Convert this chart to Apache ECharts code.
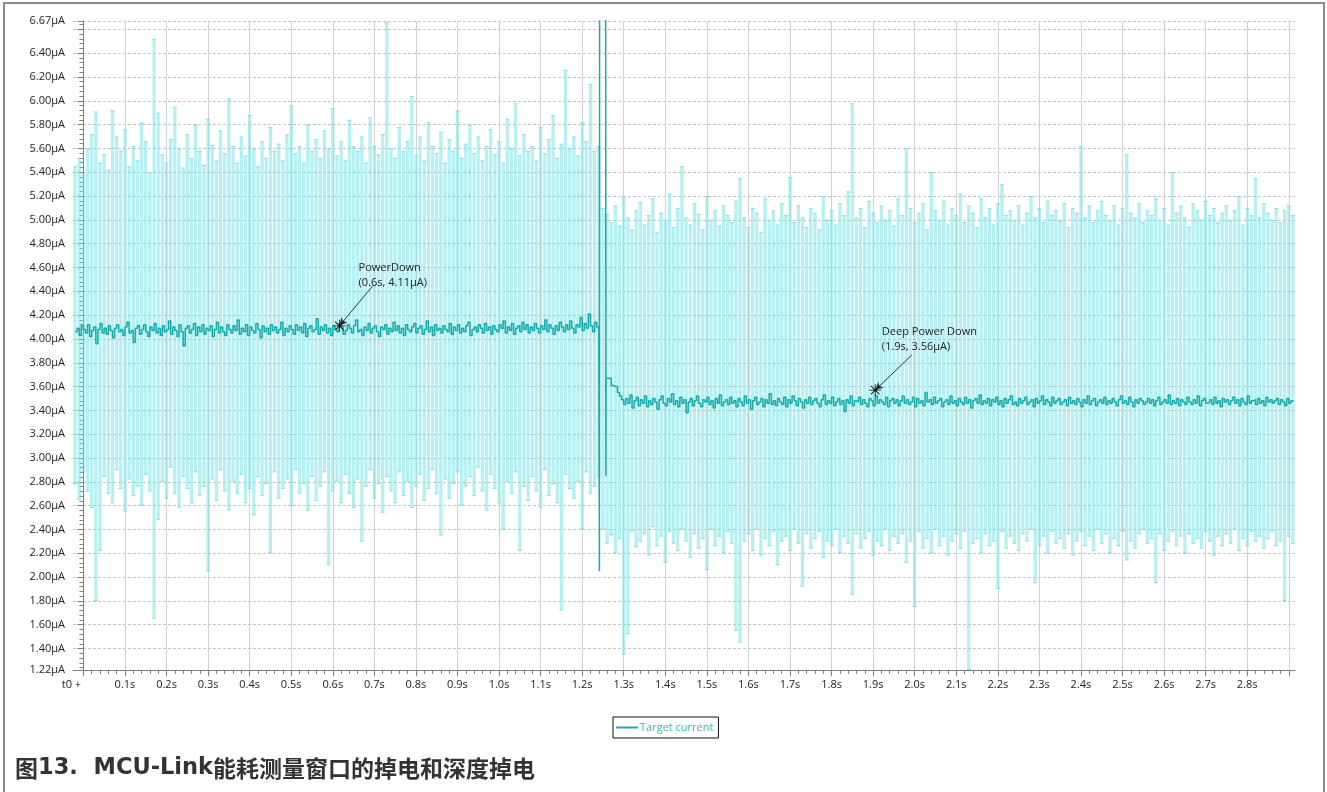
<!DOCTYPE html>
<html>
<head>
<meta charset="utf-8">
<script src="https://cdn.jsdelivr.net/npm/echarts@6/dist/echarts.min.js"></script>
<style>
html,body{margin:0;padding:0;background:#fff;}
#chart{width:1327px;height:792px;}
</style>
</head>
<body>
<div id="chart"></div>
<script>
// ---------- data ----------
const bandDt = 0.01;
// band (min/max per 0.01 s), segment A: PowerDown, starts at t = -0.02 s
const bandAStart = -0.02;
const maxA = [
5.45,5.52,5.38,5.60,5.72,5.91,5.48,5.55,5.42,5.92,
5.70,5.58,5.76,5.45,5.62,5.50,5.82,5.66,5.40,6.52,
5.90,5.55,5.48,5.68,5.95,5.60,5.44,5.72,5.52,5.80,
5.58,5.46,5.85,5.63,5.50,5.75,5.56,6.02,5.62,5.48,
5.70,5.54,5.88,5.60,5.45,5.66,5.52,5.78,5.58,5.64,
5.50,5.72,5.96,5.56,5.62,5.48,5.80,5.58,5.68,5.52,
5.75,5.60,5.94,5.54,5.66,5.50,5.84,5.62,5.58,5.70,
5.48,5.86,5.62,5.55,5.72,6.66,5.60,5.52,5.78,5.58,
5.66,6.04,5.54,5.70,5.50,5.82,5.62,5.56,5.74,5.48,
5.68,5.58,5.92,5.52,5.64,5.80,5.56,5.70,5.50,5.62,
5.76,5.55,5.66,5.48,5.85,5.60,5.98,5.54,5.72,5.58,
5.62,5.50,5.78,5.56,5.68,5.88,5.52,5.64,6.26,5.60,
5.70,5.54,5.82,5.66,6.14,5.58,5.62];
const minA = [
2.78,2.65,2.88,2.72,2.58,1.80,2.22,2.84,2.70,2.62,
2.90,2.74,2.55,2.82,2.68,2.76,2.60,2.86,2.72,1.65,
2.48,2.80,2.66,2.92,2.70,2.58,2.84,2.74,2.62,2.88,
2.68,2.76,2.05,2.82,2.64,2.90,2.72,2.56,2.80,2.70,
2.86,2.62,2.74,2.52,2.84,2.68,2.78,2.20,2.88,2.66,
2.74,2.82,2.60,2.90,2.70,2.78,2.56,2.84,2.64,2.76,
2.88,2.10,2.72,2.80,2.62,2.86,2.70,2.58,2.82,2.30,
2.76,2.90,2.66,2.78,2.54,2.84,2.72,2.62,2.88,2.68,
2.80,2.58,2.76,2.86,2.64,2.74,2.90,2.70,2.35,2.82,
2.66,2.78,2.88,2.60,2.76,2.84,2.68,2.92,2.72,2.56,
2.86,2.74,2.62,2.40,2.80,2.70,2.88,2.22,2.76,2.64,
2.84,2.72,2.58,2.90,2.68,2.78,2.62,1.72,2.86,2.74,
2.66,2.80,2.40,2.88,2.70,2.76,2.84];
// segment B: Deep Power Down, starts at t = 1.25 s
const bandBStart = 1.25;
const maxB = [
5.10,5.05,4.98,5.12,4.95,5.20,5.02,4.92,5.08,5.15,
4.96,5.04,5.18,4.90,5.06,5.00,5.22,4.94,5.10,5.45,
5.02,4.96,5.14,5.05,4.92,5.20,5.00,5.08,4.95,5.12,
5.04,4.98,5.16,5.35,5.02,4.94,5.10,5.06,4.90,5.18,
5.00,5.08,4.96,5.14,5.04,5.36,4.98,5.12,5.02,4.94,
5.10,5.06,4.92,5.20,5.00,5.08,4.96,5.14,5.04,5.24,
5.98,5.02,5.10,4.94,5.16,5.06,4.98,5.12,5.00,5.08,
4.95,5.18,5.04,5.60,5.10,4.98,5.06,5.14,4.92,5.40,
5.08,5.00,5.16,4.96,5.10,5.04,5.22,4.98,5.12,5.06,
4.94,5.18,5.02,5.10,4.96,5.14,5.30,5.04,5.08,5.00,
5.12,4.96,5.06,5.20,5.02,5.10,4.98,5.16,5.04,5.08,
5.00,5.14,4.94,5.10,5.06,5.62,5.02,5.12,4.98,5.08,
5.16,5.04,5.00,5.12,4.96,5.10,5.55,5.06,5.02,5.14,
4.98,5.08,5.04,5.18,5.00,5.10,4.96,5.40,5.06,5.12,
5.02,4.94,5.14,5.08,5.00,5.16,5.04,5.10,4.98,5.06,
5.12,5.00,5.08,5.20,4.96,5.10,5.04,5.35,5.02,5.14,
5.06,5.00,5.10,4.98,5.08,5.12,5.04];
const minB = [
2.40,2.28,2.35,2.20,2.32,1.35,1.52,2.38,2.25,2.30,
2.36,2.18,2.42,2.26,2.34,2.12,2.38,2.28,2.22,2.40,
2.30,2.16,2.36,2.24,2.32,2.06,2.40,2.26,2.34,2.20,
2.38,2.28,1.55,1.45,2.30,2.36,2.22,2.40,2.18,2.32,
2.26,2.38,2.10,2.30,2.34,2.22,2.40,2.28,1.92,2.36,
2.24,2.32,2.38,2.16,2.30,2.26,2.40,2.20,2.34,2.28,
1.85,2.36,2.24,2.32,2.38,2.18,2.30,2.26,2.40,2.22,
2.34,2.28,2.36,2.12,2.30,1.75,2.38,2.24,2.32,2.20,
2.40,2.26,2.34,2.18,2.30,2.36,2.24,2.38,1.22,2.28,
2.32,2.20,2.36,2.26,2.30,1.90,2.38,2.24,2.34,2.28,
2.22,2.36,2.30,2.40,1.95,2.26,2.34,2.20,2.38,2.28,
2.32,2.24,2.36,2.18,2.30,2.38,2.26,2.34,2.22,2.40,
2.28,2.36,2.20,2.32,2.26,2.38,2.14,2.30,2.24,2.36,
2.40,2.28,2.32,1.95,2.36,2.22,2.30,2.38,2.26,2.34,
2.20,2.36,2.28,2.32,2.24,2.38,2.30,2.18,2.34,2.26,
2.36,2.28,2.40,2.22,2.32,2.26,2.38,2.30,2.34,2.24,
2.32,2.38,2.26,2.30,1.80,2.34,2.28];
// average current ("Target current"), one value per 0.005 s
const avgDt = 0.005;
const avgAStart = -0.02;
const avgA = [
4.06,4.09,4.03,4.11,4.08,4.05,4.12,4.02,4.07,4.10,3.96,4.08,4.13,4.05,4.09,4.04,4.11,4.07,4.01,4.09,
4.12,4.06,4.08,4.03,4.10,4.14,4.05,4.07,3.97,4.09,4.11,4.04,4.08,4.12,4.06,4.02,4.10,4.07,4.13,4.05,
4.09,4.03,4.11,4.06,4.08,4.15,4.04,4.10,4.07,4.02,4.12,4.06,3.94,4.09,4.11,4.05,4.08,4.13,4.03,4.10,
4.06,4.12,4.04,4.09,4.07,4.11,4.02,4.08,4.14,4.05,4.10,4.06,4.03,4.12,4.08,4.05,4.11,4.07,4.16,4.04,
4.09,4.06,4.12,4.03,4.10,4.07,4.05,4.13,4.08,4.01,4.11,4.06,4.09,4.04,4.12,4.07,4.10,4.05,4.08,4.14,
4.03,4.09,4.06,4.11,4.08,4.04,4.12,4.07,4.10,4.05,4.13,4.02,4.09,4.11,4.06,4.08,4.17,4.04,4.10,4.07,
4.12,4.05,4.09,4.03,4.11,4.08,4.06,4.13,4.10,4.04,4.07,4.12,4.09,4.05,4.11,4.16,4.06,4.08,4.03,4.10,
4.07,4.13,4.05,4.09,4.11,4.06,4.02,4.10,4.08,4.12,4.04,4.09,4.06,4.14,4.07,4.11,4.05,4.09,4.03,4.12,
4.08,4.06,4.10,4.13,4.05,4.09,4.11,4.04,4.08,4.15,4.06,4.10,4.03,4.12,4.07,4.09,4.05,4.11,4.08,4.06,
4.13,4.04,4.10,4.07,4.12,4.05,4.09,4.06,4.11,4.14,4.03,4.08,4.10,4.06,4.12,4.09,4.05,4.13,4.07,4.10,
4.04,4.11,4.08,4.06,4.12,4.09,4.15,4.05,4.10,4.07,4.13,4.04,4.09,4.11,4.06,4.14,4.08,4.12,4.05,4.10,
4.07,4.13,4.09,4.05,4.11,4.08,4.16,4.06,4.12,4.09,4.04,4.11,4.07,4.14,4.10,4.06,4.12,4.08,4.15,4.09,
4.05,4.12,4.10,4.18,4.07,4.13,4.09,4.21,4.11,4.06,4.14,4.10,4.08];
// switching transient between the two modes
const spikeT = [1.2415, 1.2420, 1.2565, 1.2570, 1.2575];
const spikeV = [2.05, 8.00, 8.00, 2.85, 3.67];
const avgBStart = 1.26;
const avgB = [
3.67,3.67,3.61,3.60,3.60,3.55,3.52,3.49,3.45,3.50,3.46,3.53,3.42,3.48,3.51,3.44,3.49,3.46,3.52,3.43,
3.48,3.45,3.50,3.47,3.41,3.49,3.52,3.46,3.44,3.50,3.47,3.54,3.45,3.48,3.43,3.51,3.46,3.49,3.38,3.47,
3.50,3.44,3.48,3.52,3.46,3.43,3.49,3.47,3.51,3.45,3.48,3.42,3.50,3.46,3.53,3.44,3.47,3.49,3.45,3.51,
3.46,3.48,3.43,3.50,3.47,3.44,3.52,3.46,3.49,3.41,3.48,3.51,3.45,3.47,3.50,3.43,3.49,3.46,3.54,3.45,
3.48,3.44,3.50,3.47,3.45,3.51,3.43,3.49,3.46,3.52,3.48,3.44,3.50,3.47,3.42,3.49,3.46,3.51,3.45,3.48,
3.50,3.46,3.43,3.49,3.53,3.45,3.48,3.46,3.51,3.44,3.47,3.50,3.45,3.48,3.39,3.49,3.46,3.52,3.44,3.48,
3.47,3.51,3.45,3.49,3.46,3.43,3.50,3.48,3.44,3.52,3.46,3.49,3.47,3.45,3.51,3.43,3.48,3.50,3.46,3.49,
3.44,3.48,3.52,3.46,3.49,3.45,3.47,3.51,3.43,3.50,3.46,3.48,3.44,3.55,3.47,3.49,3.45,3.51,3.46,3.48,
3.50,3.43,3.47,3.49,3.45,3.52,3.46,3.48,3.44,3.50,3.47,3.45,3.51,3.46,3.49,3.42,3.48,3.50,3.46,3.53,
3.45,3.48,3.46,3.50,3.44,3.49,3.47,3.51,3.45,3.48,3.43,3.50,3.46,3.49,3.52,3.45,3.47,3.44,3.50,3.46,
3.48,3.51,3.45,3.47,3.49,3.43,3.50,3.46,3.48,3.52,3.45,3.49,3.47,3.44,3.51,3.46,3.48,3.50,3.45,3.47,
3.49,3.44,3.51,3.46,3.48,3.45,3.50,3.47,3.43,3.49,3.46,3.52,3.45,3.48,3.50,3.44,3.47,3.49,3.46,3.51,
3.45,3.48,3.46,3.50,3.47,3.44,3.49,3.52,3.46,3.48,3.45,3.51,3.47,3.43,3.49,3.46,3.50,3.48,3.45,3.47,
3.50,3.46,3.49,3.44,3.48,3.51,3.45,3.47,3.49,3.46,3.53,3.45,3.48,3.46,3.50,3.44,3.49,3.47,3.45,3.51,
3.47,3.45,3.49,3.46,3.52,3.44,3.48,3.50,3.46,3.47,3.49,3.45,3.51,3.46,3.48,3.43,3.50,3.47,3.49,3.45,
3.48,3.51,3.46,3.49,3.44,3.50,3.47,3.45,3.52,3.46,3.48,3.49,3.45,3.50,3.46,3.48,3.44,3.51,3.47,3.49,
3.46,3.48,3.50,3.45,3.49,3.47,3.44,3.50,3.46,3.48,3.47];
// annotations
const notes = [
  {text: 'PowerDown\n(0.6s, 4.11µA)', at: [0.616, 4.11], from: [0.696, 4.445], label: [0.662, 4.663]},
  {text: 'Deep Power Down\n(1.9s, 3.56µA)', at: [1.905, 3.57], from: [1.993, 3.865], label: [1.921, 4.125]}
];
// axes
const xMin = -0.025, xMax = 2.915;
const yMin = 1.22, yMax = 6.67;
const xLabelValues = [0,0.1,0.2,0.3,0.4,0.5,0.6,0.7,0.8,0.9,1.0,1.1,1.2,1.3,1.4,1.5,1.6,1.7,1.8,1.9,2.0,2.1,2.2,2.3,2.4,2.5,2.6,2.7,2.8];
const xGridValues = xLabelValues.concat([2.9]);
const yLabelValues = [1.22,1.4,1.6,1.8,2.0,2.2,2.4,2.6,2.8,3.0,3.2,3.4,3.6,3.8,4.0,4.2,4.4,4.6,4.8,5.0,5.2,5.4,5.6,5.8,6.0,6.2,6.4,6.67];
const yGridValues = [1.4,1.6,1.8,2.0,2.2,2.4,2.6,2.8,3.0,3.2,3.4,3.6,3.8,4.0,4.2,4.4,4.6,4.8,5.0,5.2,5.4,5.6,5.8,6.0,6.2,6.4,6.6,6.67];

// ---------- build ----------
const r4 = v => Math.round(v * 10000) / 10000;
const band = [];
maxA.forEach((hi, i) => band.push([r4(bandAStart + i * bandDt), minA[i], hi]));
maxB.forEach((hi, i) => band.push([r4(bandBStart + i * bandDt), minB[i], hi]));
const avg = [];
avgA.forEach((v, i) => avg.push([r4(avgAStart + i * avgDt), v]));
spikeT.forEach((t, i) => avg.push([t, spikeV[i]]));
avgB.forEach((v, i) => avg.push([r4(avgBStart + i * avgDt), v]));

const xMinor = [];
for (let k = 0; k * 0.02 <= xMax + 1e-9; k++) xMinor.push(r4(k * 0.02));
const yMinor = [];
for (let k = 0; 1.24 + k * 0.04 <= yMax + 1e-9; k++) yMinor.push(r4(1.24 + k * 0.04));

const BAND_FILL = 'rgba(122,228,231,0.55)';
const BAND_CAP = 'rgba(110,215,220,0.6)';
const LINE_COLOR = '#17abab';
const FONT = '"Open Sans", "Noto Sans", sans-serif';

function renderBand(params, api) {
  const t = api.value(0), lo = api.value(1), hi = api.value(2);
  const top = api.coord([t, hi]);
  const bot = api.coord([t, lo]);
  const w = api.size([bandDt, 0])[0];
  const bw = w * 0.8;
  const cw = w * 0.5;
  return {
    type: 'group',
    children: [
      {type: 'rect', shape: {x: top[0] - bw / 2, y: top[1], width: bw, height: bot[1] - top[1]}, style: {fill: BAND_FILL}},
      {type: 'line', shape: {x1: top[0] - cw, y1: top[1] + 0.5, x2: top[0] + cw, y2: top[1] + 0.5}, style: {stroke: BAND_CAP, lineWidth: 1}},
      {type: 'line', shape: {x1: top[0] - cw, y1: bot[1] - 0.5, x2: top[0] + cw, y2: bot[1] - 0.5}, style: {stroke: BAND_CAP, lineWidth: 1}}
    ]
  };
}

const chart = echarts.init(document.getElementById('chart'), null, {renderer: 'canvas'});
const labelStyle = {color: '#222', fontSize: 11, fontFamily: FONT};
chart.setOption({
  animation: false,
  backgroundColor: '#fff',
  grid: {left: 73, top: 21, width: 1222, height: 649, containLabel: false},
  xAxis: [
    {type: 'value', min: xMin, max: xMax, position: 'bottom',
     axisLine: {show: true, lineStyle: {color: '#808080', width: 1}},
     axisTick: {show: true, customValues: xMinor, length: 4, lineStyle: {color: '#808080'}},
     axisLabel: {show: false}, splitLine: {show: false}},
    {type: 'value', min: xMin, max: xMax, position: 'bottom',
     axisLine: {show: false},
     axisTick: {show: true, customValues: xGridValues, length: 6, lineStyle: {color: '#808080'}},
     axisLabel: {show: true, customValues: xLabelValues, margin: 9, ...labelStyle,
       formatter: v => Math.abs(v) < 1e-9 ? '{t|t0 +}' : v.toFixed(1) + 's',
       rich: {t: {padding: [0, 24, 0, 0], ...labelStyle}}},
     splitLine: {show: true, lineStyle: {color: '#d2d2d2', width: 1, type: 'solid'}}}
  ],
  yAxis: [
    {type: 'value', min: yMin, max: yMax, position: 'left',
     axisLine: {show: true, lineStyle: {color: '#808080', width: 1}},
     axisTick: {show: true, customValues: yMinor, length: 4, lineStyle: {color: '#808080'}},
     axisLabel: {show: false}, splitLine: {show: false}},
    {type: 'value', min: yMin, max: yMax, position: 'left',
     axisLine: {show: false},
     axisTick: {show: true, customValues: yGridValues, length: 6, lineStyle: {color: '#808080'}},
     axisLabel: {show: true, customValues: yLabelValues, margin: 8, ...labelStyle,
       formatter: v => v.toFixed(2) + 'µA'},
     splitLine: {show: true, lineStyle: {color: '#c4c4c4', width: 1, type: [3, 2]}}}
  ],
  legend: {
    data: ['Target current'], left: 613, top: 717,
    padding: [5, 5, 5, 3], borderColor: '#111', borderWidth: 1,
    icon: 'rect', itemWidth: 22, itemHeight: 2, itemGap: 4,
    textStyle: {color: '#3ab5b5', fontSize: 11, fontFamily: FONT, padding: [0, 0, 0, -3]}
  },
  graphic: [
    {type: 'rect', silent: true, shape: {x: 4, y: 3, width: 1320, height: 820},
     style: {fill: 'none', stroke: '#8a8a8a', lineWidth: 2}},
    {type: 'text', left: 15, top: 757,
     style: {
       text: '{c|图}{l|13.  MCU-Link}{c|能耗测量窗口的掉电和深度掉电}',
       rich: {
         c: {fontFamily: '"Noto Sans CJK SC"', fontWeight: 'bold', fontSize: 23, fill: '#333', color: '#333'},
         l: {fontFamily: '"DejaVu Sans"', fontWeight: 'bold', fontSize: 22.5, fill: '#333', color: '#333'}
       }
     }}
  ],
  series: [
    {type: 'custom', name: 'band', xAxisIndex: 0, yAxisIndex: 0, renderItem: renderBand,
     data: band, clip: true, encode: {x: 0, y: [1, 2]}, z: 2, silent: true},
    {type: 'line', name: 'Target current', xAxisIndex: 0, yAxisIndex: 0, data: avg,
     showSymbol: false, step: 'end', clip: true, z: 3,
     lineStyle: {color: LINE_COLOR, width: 1.5}, itemStyle: {color: LINE_COLOR},
     markLine: {silent: true, symbol: ['none', 'arrow'], symbolSize: [6, 8],
       label: {show: false}, lineStyle: {color: '#333', width: 1, type: 'solid'},
       data: notes.map(n => [{coord: n.from}, {coord: n.at}])},
     markPoint: {silent: true,
       data: notes.flatMap(n => [
         {coord: n.at, symbol: 'path://M-0.7,-10L0.7,-10L0.7,10L-0.7,10Z M-10,-0.7L10,-0.7L10,0.7L-10,0.7Z M-7.6,-6.6L-6.6,-7.6L7.6,6.6L6.6,7.6Z M6.6,-7.6L7.6,-6.6L-6.6,7.6L-7.6,6.6Z',
          symbolSize: 12, itemStyle: {color: '#111'}, label: {show: false}},
         {coord: n.label, symbol: 'circle', symbolSize: 1, itemStyle: {color: 'rgba(0,0,0,0)'},
          label: {show: true, position: 'inside', formatter: n.text, align: 'left', verticalAlign: 'top',
            color: '#222', fontSize: 11, lineHeight: 15, fontFamily: FONT}}
       ])}
    }
  ]
});
</script>
</body>
</html>
